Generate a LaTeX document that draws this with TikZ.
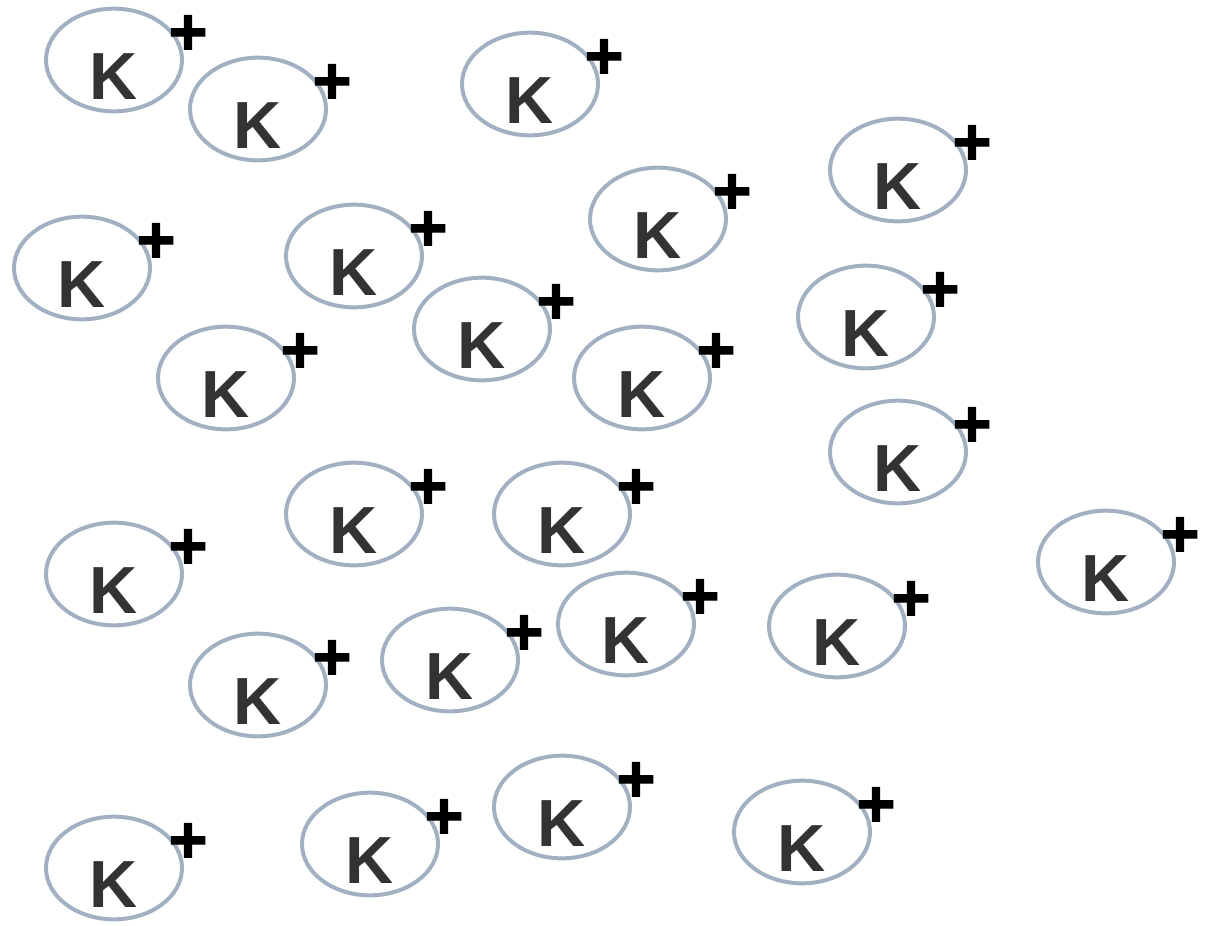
\documentclass[tikz,border=0pt]{standalone}
\usepackage{fontspec}
\setmainfont{Liberation Sans}
\newfontfamily\chargefont{Liberation Sans}[FakeBold=1.6]
\usepackage{xcolor}
\usetikzlibrary{shapes.geometric,calc}
\definecolor{ionrim}{HTML}{A1B1C2}
\definecolor{iontext}{HTML}{333333}
\tikzset{%
  % ions
  ion/.style={draw=ionrim, line width=3pt, ellipse, inner sep=0pt,
    minimum width=102pt, minimum height=77pt},
  ionletter/.style={text=iontext, font=\fontsize{50}{50}\selectfont\bfseries, inner sep=0pt},
  charge/.style={text=black, font=\fontsize{50}{50}\chargefont\bfseries, inner sep=0pt},
}

\begin{document}
\begin{tikzpicture}[x=0.75pt, y=-0.75pt]
  \useasboundingbox (0,0) rectangle (1207,925);
  \foreach \x/\y [count=\i] in {114/60, 258/109, 530/84, 898/170, 658/219,
      82/268, 354/256, 482/329, 866/317, 226/378, 642/378, 898/452,
      354/514, 562/514, 1106/562, 114/574, 626/624, 837/626, 258/685,
      450/660, 562/807, 802/832, 370/844, 114/868} {
    \node[ion] (k\i) at (\x,\y) {};
    \node[ionletter] (k\i-K) at ($(k\i.center)+(0,17)$) {K};
    \node[charge] (k\i-p) at ($(k\i.center)+(74,-25)$) {+};
  }
\end{tikzpicture}
\end{document}
